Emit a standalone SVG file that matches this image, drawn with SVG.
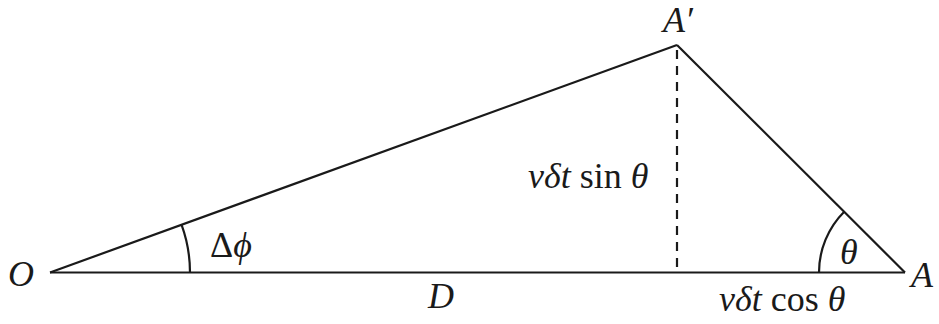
<svg xmlns="http://www.w3.org/2000/svg" width="939" height="324" viewBox="0 0 939 324">
<style>
.ln{stroke:#1a1a1a;stroke-width:2.2;fill:none;stroke-linecap:butt}
.ds{stroke:#1a1a1a;stroke-width:2.2;fill:none;stroke-dasharray:9 7}
text{font-family:"Liberation Serif","Times New Roman",serif;font-size:36px;fill:#1a1a1a}
.it{font-style:italic}
</style>
<rect width="939" height="324" fill="#ffffff"/>
<g id="connectors">
<line class="ln" x1="50" y1="272.5" x2="905" y2="272.5"/>
<line class="ln" x1="50" y1="272.5" x2="677" y2="45"/>
<line class="ln" x1="677" y1="45" x2="905" y2="272.5"/>
<line class="ds" x1="677" y1="50" x2="677" y2="272"/>
<path class="ln" d="M190 272.5 A140 140 0 0 0 181.6 224.8"/>
<path class="ln" d="M819 272.5 A86 86 0 0 1 844.2 211.7"/>
</g>
<g id="node-O"><text class="it" x="8" y="286">O</text></g>
<g id="node-A"><text class="it" x="911" y="287">A</text></g>
<g id="node-Aprime"><text class="it" x="663" y="32" font-size="38">A′</text></g>
<g id="label-dphi"><text x="210" y="257" font-size="37">Δ<tspan class="it">ϕ</tspan></text></g>
<g id="label-sin"><text x="528" y="188" font-size="39"><tspan class="it">vδt</tspan> sin <tspan class="it">θ</tspan></text></g>
<g id="label-theta"><text class="it" x="840" y="264">θ</text></g>
<g id="label-D"><text class="it" x="428" y="308">D</text></g>
<g id="label-cos"><text x="719" y="311" font-size="39"><tspan class="it">vδt</tspan> cos <tspan class="it">θ</tspan></text></g>
</svg>
